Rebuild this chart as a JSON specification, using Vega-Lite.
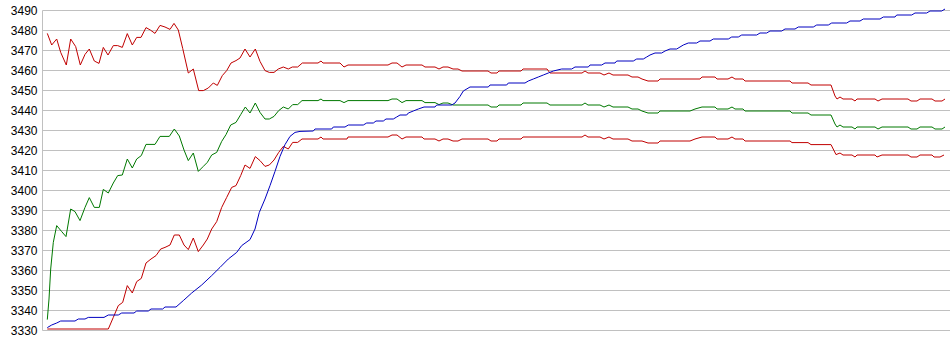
{
  "$schema": "https://vega.github.io/schema/vega-lite/v6.json",
  "width": 908,
  "height": 320,
  "autosize": {"type": "none"},
  "padding": {"left": 42, "top": 10, "right": 0, "bottom": 25},
  "background": "white",
  "config": {"view": {"stroke": null}},
  "data": {"values": [
    {"s":"A","x":47.3,"y":3478.3},{"s":"A","x":51.7,"y":3472.5},{"s":"A","x":56.7,"y":3475.5},{"s":"A","x":60.7,"y":3468.8},{"s":"A","x":66.3,"y":3462.5},{"s":"A","x":70.7,"y":3475.5},{"s":"A","x":75.7,"y":3471.7},{"s":"A","x":80.3,"y":3462.5},{"s":"A","x":85,"y":3467.8},{"s":"A","x":89.3,"y":3470.5},{"s":"A","x":94.3,"y":3464.5},{"s":"A","x":99,"y":3463.3},{"s":"A","x":103.3,"y":3471.3},{"s":"A","x":108,"y":3467.5},{"s":"A","x":113.3,"y":3472.2},{"s":"A","x":117.7,"y":3472.2},{"s":"A","x":122.3,"y":3471.3},{"s":"A","x":127.3,"y":3478.2},{"s":"A","x":132.3,"y":3472.5},{"s":"A","x":136.7,"y":3476.3},{"s":"A","x":141,"y":3476.3},{"s":"A","x":146,"y":3481.2},{"s":"A","x":150.3,"y":3480},{"s":"A","x":155,"y":3478.3},{"s":"A","x":160,"y":3482.3},{"s":"A","x":165,"y":3481.5},{"s":"A","x":170,"y":3480.3},{"s":"A","x":174,"y":3483.3},{"s":"A","x":178.3,"y":3480},{"s":"A","x":182.7,"y":3470.8},{"s":"A","x":188.3,"y":3458.5},{"s":"A","x":193.3,"y":3460.5},{"s":"A","x":198.7,"y":3449.7},{"s":"A","x":203.3,"y":3449.7},{"s":"A","x":208.3,"y":3451},{"s":"A","x":213.3,"y":3453.5},{"s":"A","x":217.3,"y":3452.3},{"s":"A","x":222.3,"y":3457.2},{"s":"A","x":226.7,"y":3459.7},{"s":"A","x":231,"y":3463.5},{"s":"A","x":236,"y":3464.7},{"s":"A","x":240,"y":3466},{"s":"A","x":245,"y":3470.5},{"s":"A","x":250,"y":3466.5},{"s":"A","x":255.3,"y":3470.5},{"s":"A","x":260,"y":3464.3},{"s":"A","x":265,"y":3459.7},{"s":"A","x":269.3,"y":3458.8},{"s":"A","x":274,"y":3458.8},{"s":"A","x":278.3,"y":3460.5},{"s":"A","x":283.3,"y":3461.5},{"s":"A","x":288.3,"y":3460.5},{"s":"A","x":292.3,"y":3461.5},{"s":"A","x":297.7,"y":3461.5},{"s":"A","x":302.3,"y":3463.5},{"s":"A","x":318,"y":3463.5},{"s":"A","x":321,"y":3464.5},{"s":"A","x":323,"y":3463.5},{"s":"A","x":340,"y":3463.5},{"s":"A","x":344,"y":3461.5},{"s":"A","x":348,"y":3462.5},{"s":"A","x":388,"y":3462.5},{"s":"A","x":392,"y":3463.5},{"s":"A","x":397,"y":3463.5},{"s":"A","x":402,"y":3461.5},{"s":"A","x":406,"y":3462.5},{"s":"A","x":422,"y":3462.5},{"s":"A","x":425,"y":3461.5},{"s":"A","x":435,"y":3461.5},{"s":"A","x":439,"y":3460.5},{"s":"A","x":443,"y":3461.5},{"s":"A","x":448,"y":3461.5},{"s":"A","x":453,"y":3460.5},{"s":"A","x":458,"y":3460.5},{"s":"A","x":462,"y":3459.5},{"s":"A","x":488,"y":3459.5},{"s":"A","x":491,"y":3458.5},{"s":"A","x":497,"y":3458.5},{"s":"A","x":499,"y":3459.5},{"s":"A","x":521,"y":3459.5},{"s":"A","x":523,"y":3460.5},{"s":"A","x":547,"y":3460.5},{"s":"A","x":550,"y":3458.5},{"s":"A","x":582,"y":3458.5},{"s":"A","x":585,"y":3459.5},{"s":"A","x":588,"y":3458.5},{"s":"A","x":600,"y":3458.5},{"s":"A","x":604,"y":3457.5},{"s":"A","x":609,"y":3458.5},{"s":"A","x":613,"y":3457.5},{"s":"A","x":628,"y":3457.5},{"s":"A","x":632,"y":3456.5},{"s":"A","x":638,"y":3456.5},{"s":"A","x":642,"y":3455.5},{"s":"A","x":648,"y":3454.5},{"s":"A","x":658,"y":3454.5},{"s":"A","x":660,"y":3455.5},{"s":"A","x":700,"y":3455.5},{"s":"A","x":702,"y":3456.5},{"s":"A","x":715,"y":3456.5},{"s":"A","x":717,"y":3455.5},{"s":"A","x":728,"y":3455.5},{"s":"A","x":732,"y":3456.5},{"s":"A","x":735,"y":3455.5},{"s":"A","x":743,"y":3455.5},{"s":"A","x":745,"y":3454.5},{"s":"A","x":790,"y":3454.5},{"s":"A","x":792,"y":3453.5},{"s":"A","x":808,"y":3453.5},{"s":"A","x":811,"y":3452.5},{"s":"A","x":831,"y":3452.5},{"s":"A","x":835,"y":3447},{"s":"A","x":837,"y":3445.5},{"s":"A","x":840,"y":3446.5},{"s":"A","x":843,"y":3445.5},{"s":"A","x":852,"y":3445.5},{"s":"A","x":855,"y":3444.5},{"s":"A","x":857,"y":3445.5},{"s":"A","x":875,"y":3445.5},{"s":"A","x":878,"y":3444.5},{"s":"A","x":882,"y":3445.5},{"s":"A","x":908,"y":3445.5},{"s":"A","x":911,"y":3444.5},{"s":"A","x":917,"y":3444.5},{"s":"A","x":920,"y":3445.5},{"s":"A","x":932,"y":3445.5},{"s":"A","x":935,"y":3444.5},{"s":"A","x":942,"y":3444.5},{"s":"A","x":945,"y":3445.5},
    {"s":"B","x":47.3,"y":3335.2},{"s":"B","x":49,"y":3345.5},{"s":"B","x":50.7,"y":3360.5},{"s":"B","x":53.3,"y":3373.8},{"s":"B","x":56.7,"y":3382.2},{"s":"B","x":61.7,"y":3379.2},{"s":"B","x":66,"y":3376.7},{"s":"B","x":70.7,"y":3390.5},{"s":"B","x":75,"y":3389.2},{"s":"B","x":80,"y":3384.7},{"s":"B","x":85,"y":3391.3},{"s":"B","x":89.3,"y":3396.2},{"s":"B","x":94.3,"y":3391.3},{"s":"B","x":99.3,"y":3391.3},{"s":"B","x":103.3,"y":3400.3},{"s":"B","x":108.3,"y":3398.5},{"s":"B","x":113.3,"y":3403.5},{"s":"B","x":117.7,"y":3407.2},{"s":"B","x":122.3,"y":3407.5},{"s":"B","x":127.3,"y":3415.5},{"s":"B","x":132.3,"y":3411},{"s":"B","x":136.7,"y":3415.5},{"s":"B","x":141.3,"y":3417.2},{"s":"B","x":146,"y":3422.8},{"s":"B","x":155,"y":3422.8},{"s":"B","x":160,"y":3426.8},{"s":"B","x":169.3,"y":3426.8},{"s":"B","x":174.3,"y":3430.5},{"s":"B","x":179.3,"y":3427},{"s":"B","x":184,"y":3420},{"s":"B","x":188.3,"y":3414.7},{"s":"B","x":193.3,"y":3418.5},{"s":"B","x":198.3,"y":3409.3},{"s":"B","x":203.3,"y":3411.8},{"s":"B","x":207.3,"y":3413.8},{"s":"B","x":211.7,"y":3417.5},{"s":"B","x":216.7,"y":3418.8},{"s":"B","x":221.7,"y":3424.3},{"s":"B","x":226,"y":3427.7},{"s":"B","x":230.7,"y":3432.5},{"s":"B","x":236,"y":3433.8},{"s":"B","x":240.7,"y":3437.7},{"s":"B","x":245.3,"y":3441.5},{"s":"B","x":250,"y":3438.5},{"s":"B","x":255.3,"y":3443.5},{"s":"B","x":260,"y":3438.8},{"s":"B","x":265,"y":3435.5},{"s":"B","x":269.3,"y":3435.5},{"s":"B","x":274,"y":3436.8},{"s":"B","x":278.7,"y":3439.7},{"s":"B","x":283.3,"y":3441.5},{"s":"B","x":288.3,"y":3440.5},{"s":"B","x":292.7,"y":3442.7},{"s":"B","x":297.7,"y":3442.7},{"s":"B","x":302,"y":3444.7},{"s":"B","x":318,"y":3444.7},{"s":"B","x":321,"y":3445.5},{"s":"B","x":323,"y":3444.7},{"s":"B","x":340,"y":3444.7},{"s":"B","x":344,"y":3443.7},{"s":"B","x":348,"y":3444.7},{"s":"B","x":388,"y":3444.7},{"s":"B","x":392,"y":3445.5},{"s":"B","x":397,"y":3445.5},{"s":"B","x":402,"y":3443.7},{"s":"B","x":406,"y":3444.7},{"s":"B","x":422,"y":3444.7},{"s":"B","x":425,"y":3443.7},{"s":"B","x":435,"y":3443.7},{"s":"B","x":439,"y":3442.7},{"s":"B","x":443,"y":3443.5},{"s":"B","x":448,"y":3443.5},{"s":"B","x":453,"y":3442.5},{"s":"B","x":488,"y":3442.5},{"s":"B","x":491,"y":3441.5},{"s":"B","x":497,"y":3441.5},{"s":"B","x":499,"y":3442.5},{"s":"B","x":521,"y":3442.5},{"s":"B","x":523,"y":3443.5},{"s":"B","x":547,"y":3443.5},{"s":"B","x":550,"y":3442.5},{"s":"B","x":582,"y":3442.5},{"s":"B","x":585,"y":3443.5},{"s":"B","x":588,"y":3442.5},{"s":"B","x":600,"y":3442.5},{"s":"B","x":604,"y":3441.5},{"s":"B","x":609,"y":3442.5},{"s":"B","x":613,"y":3441.5},{"s":"B","x":628,"y":3441.5},{"s":"B","x":632,"y":3440.5},{"s":"B","x":638,"y":3440.5},{"s":"B","x":642,"y":3439.5},{"s":"B","x":648,"y":3438.5},{"s":"B","x":658,"y":3438.5},{"s":"B","x":660,"y":3439.5},{"s":"B","x":690,"y":3439.5},{"s":"B","x":695,"y":3440.5},{"s":"B","x":702,"y":3441.5},{"s":"B","x":715,"y":3441.5},{"s":"B","x":717,"y":3440.5},{"s":"B","x":728,"y":3440.5},{"s":"B","x":732,"y":3441.5},{"s":"B","x":735,"y":3440.5},{"s":"B","x":743,"y":3440.5},{"s":"B","x":745,"y":3439.5},{"s":"B","x":790,"y":3439.5},{"s":"B","x":792,"y":3438.5},{"s":"B","x":808,"y":3438.5},{"s":"B","x":811,"y":3437.5},{"s":"B","x":831,"y":3437.5},{"s":"B","x":835,"y":3433},{"s":"B","x":837,"y":3431.5},{"s":"B","x":840,"y":3432.5},{"s":"B","x":843,"y":3431.5},{"s":"B","x":852,"y":3431.5},{"s":"B","x":855,"y":3430.5},{"s":"B","x":857,"y":3431.5},{"s":"B","x":875,"y":3431.5},{"s":"B","x":878,"y":3430.5},{"s":"B","x":882,"y":3431.5},{"s":"B","x":908,"y":3431.5},{"s":"B","x":911,"y":3430.5},{"s":"B","x":917,"y":3430.5},{"s":"B","x":920,"y":3431.5},{"s":"B","x":932,"y":3431.5},{"s":"B","x":935,"y":3430.5},{"s":"B","x":942,"y":3430.5},{"s":"B","x":945,"y":3431.5},
    {"s":"C","x":47.3,"y":3330.5},{"s":"C","x":108.3,"y":3330.5},{"s":"C","x":113.3,"y":3336.3},{"s":"C","x":118.3,"y":3342.2},{"s":"C","x":122.7,"y":3343.8},{"s":"C","x":127.3,"y":3352.2},{"s":"C","x":132.3,"y":3348.5},{"s":"C","x":136.7,"y":3354.2},{"s":"C","x":141.3,"y":3355.8},{"s":"C","x":146,"y":3363.5},{"s":"C","x":151,"y":3365.5},{"s":"C","x":156,"y":3367.2},{"s":"C","x":160.7,"y":3370.5},{"s":"C","x":165,"y":3371.3},{"s":"C","x":170,"y":3372.5},{"s":"C","x":174.3,"y":3377.5},{"s":"C","x":179.3,"y":3377.5},{"s":"C","x":184,"y":3372.5},{"s":"C","x":188.3,"y":3370.2},{"s":"C","x":193.3,"y":3376},{"s":"C","x":198.3,"y":3369.2},{"s":"C","x":203.3,"y":3372.5},{"s":"C","x":207.3,"y":3375.5},{"s":"C","x":211.7,"y":3380.5},{"s":"C","x":216.7,"y":3384.2},{"s":"C","x":221.7,"y":3391.3},{"s":"C","x":226.7,"y":3396.3},{"s":"C","x":231.7,"y":3401.3},{"s":"C","x":236,"y":3402.2},{"s":"C","x":240.7,"y":3407.2},{"s":"C","x":245,"y":3412.5},{"s":"C","x":250,"y":3410.8},{"s":"C","x":255.3,"y":3416.7},{"s":"C","x":260,"y":3414.7},{"s":"C","x":265,"y":3411.8},{"s":"C","x":269.3,"y":3412.5},{"s":"C","x":274,"y":3415},{"s":"C","x":278.7,"y":3418.8},{"s":"C","x":283.3,"y":3421.8},{"s":"C","x":288.3,"y":3420.5},{"s":"C","x":292.7,"y":3423.8},{"s":"C","x":297.7,"y":3423.8},{"s":"C","x":302,"y":3425.5},{"s":"C","x":318,"y":3425.5},{"s":"C","x":321,"y":3426.5},{"s":"C","x":323,"y":3425.5},{"s":"C","x":347,"y":3425.5},{"s":"C","x":348,"y":3426.5},{"s":"C","x":388,"y":3426.5},{"s":"C","x":392,"y":3427.5},{"s":"C","x":397,"y":3427.5},{"s":"C","x":402,"y":3425.5},{"s":"C","x":406,"y":3426.5},{"s":"C","x":422,"y":3426.5},{"s":"C","x":424,"y":3425.5},{"s":"C","x":435,"y":3425.5},{"s":"C","x":439,"y":3424.5},{"s":"C","x":443,"y":3425.5},{"s":"C","x":448,"y":3425.5},{"s":"C","x":453,"y":3424.5},{"s":"C","x":458,"y":3424.5},{"s":"C","x":462,"y":3425.5},{"s":"C","x":488,"y":3425.5},{"s":"C","x":491,"y":3424.5},{"s":"C","x":497,"y":3424.5},{"s":"C","x":499,"y":3425.5},{"s":"C","x":521,"y":3425.5},{"s":"C","x":523,"y":3426.5},{"s":"C","x":582,"y":3426.5},{"s":"C","x":585,"y":3427.5},{"s":"C","x":588,"y":3426.5},{"s":"C","x":600,"y":3426.5},{"s":"C","x":604,"y":3425.5},{"s":"C","x":609,"y":3426.5},{"s":"C","x":613,"y":3425.5},{"s":"C","x":628,"y":3425.5},{"s":"C","x":632,"y":3424.5},{"s":"C","x":642,"y":3424.5},{"s":"C","x":648,"y":3423.5},{"s":"C","x":658,"y":3423.5},{"s":"C","x":660,"y":3424.5},{"s":"C","x":690,"y":3424.5},{"s":"C","x":695,"y":3425.5},{"s":"C","x":702,"y":3426.5},{"s":"C","x":715,"y":3426.5},{"s":"C","x":717,"y":3425.5},{"s":"C","x":728,"y":3425.5},{"s":"C","x":732,"y":3426.5},{"s":"C","x":735,"y":3425.5},{"s":"C","x":743,"y":3425.5},{"s":"C","x":745,"y":3424.5},{"s":"C","x":790,"y":3424.5},{"s":"C","x":792,"y":3423.7},{"s":"C","x":808,"y":3423.7},{"s":"C","x":811,"y":3422.7},{"s":"C","x":831,"y":3422.7},{"s":"C","x":836,"y":3417.7},{"s":"C","x":840,"y":3418.5},{"s":"C","x":843,"y":3417.5},{"s":"C","x":852,"y":3417.5},{"s":"C","x":855,"y":3416.5},{"s":"C","x":857,"y":3417.5},{"s":"C","x":875,"y":3417.5},{"s":"C","x":877,"y":3416.5},{"s":"C","x":882,"y":3417.5},{"s":"C","x":908,"y":3417.5},{"s":"C","x":911,"y":3416.5},{"s":"C","x":917,"y":3416.5},{"s":"C","x":920,"y":3417.5},{"s":"C","x":932,"y":3417.5},{"s":"C","x":934,"y":3416.5},{"s":"C","x":940,"y":3416.5},{"s":"C","x":944,"y":3417.5},
    {"s":"D","x":47.3,"y":3331.2},{"s":"D","x":51.7,"y":3332.5},{"s":"D","x":56.7,"y":3333.5},{"s":"D","x":60.7,"y":3334.5},{"s":"D","x":75,"y":3334.5},{"s":"D","x":78.3,"y":3335.5},{"s":"D","x":85,"y":3335.5},{"s":"D","x":88.3,"y":3336.3},{"s":"D","x":104,"y":3336.3},{"s":"D","x":108.3,"y":3337.5},{"s":"D","x":118.3,"y":3337.5},{"s":"D","x":121.7,"y":3338.5},{"s":"D","x":134,"y":3338.5},{"s":"D","x":136.7,"y":3339.5},{"s":"D","x":148.3,"y":3339.5},{"s":"D","x":151,"y":3340.5},{"s":"D","x":162.7,"y":3340.5},{"s":"D","x":165,"y":3341.5},{"s":"D","x":176,"y":3341.5},{"s":"D","x":183.3,"y":3344.7},{"s":"D","x":191.7,"y":3348.5},{"s":"D","x":201.7,"y":3352.5},{"s":"D","x":211.7,"y":3357.2},{"s":"D","x":220,"y":3361.3},{"s":"D","x":228.3,"y":3365.5},{"s":"D","x":236.7,"y":3368.8},{"s":"D","x":241.7,"y":3372.2},{"s":"D","x":250,"y":3375.2},{"s":"D","x":255,"y":3380.5},{"s":"D","x":259.3,"y":3388.8},{"s":"D","x":265,"y":3395.5},{"s":"D","x":270,"y":3402.2},{"s":"D","x":275,"y":3409.3},{"s":"D","x":280,"y":3416.8},{"s":"D","x":285,"y":3422.7},{"s":"D","x":290,"y":3426.8},{"s":"D","x":295,"y":3428.8},{"s":"D","x":300,"y":3429.3},{"s":"D","x":313.3,"y":3429.5},{"s":"D","x":315,"y":3430.5},{"s":"D","x":331.7,"y":3430.5},{"s":"D","x":333.3,"y":3431.5},{"s":"D","x":345,"y":3431.5},{"s":"D","x":348.3,"y":3432.5},{"s":"D","x":363.3,"y":3432.5},{"s":"D","x":366.7,"y":3433.5},{"s":"D","x":373.3,"y":3433.5},{"s":"D","x":376,"y":3434.5},{"s":"D","x":383.3,"y":3434.5},{"s":"D","x":386,"y":3435.5},{"s":"D","x":393.3,"y":3435.5},{"s":"D","x":396.7,"y":3436.5},{"s":"D","x":400,"y":3437.5},{"s":"D","x":406.7,"y":3437.5},{"s":"D","x":408.3,"y":3438.5},{"s":"D","x":413.3,"y":3439.5},{"s":"D","x":418.3,"y":3440.5},{"s":"D","x":424,"y":3441.5},{"s":"D","x":435,"y":3441.5},{"s":"D","x":436.7,"y":3442.5},{"s":"D","x":451.7,"y":3442.5},{"s":"D","x":455,"y":3443.5},{"s":"D","x":460,"y":3446.8},{"s":"D","x":463.3,"y":3449.5},{"s":"D","x":470,"y":3451.5},{"s":"D","x":488.3,"y":3451.5},{"s":"D","x":490,"y":3452.5},{"s":"D","x":506.7,"y":3452.5},{"s":"D","x":508.3,"y":3453.5},{"s":"D","x":525,"y":3453.5},{"s":"D","x":528.3,"y":3454.5},{"s":"D","x":533.3,"y":3455.5},{"s":"D","x":538.3,"y":3456.5},{"s":"D","x":543.3,"y":3457.5},{"s":"D","x":548.3,"y":3458.5},{"s":"D","x":553.3,"y":3459.5},{"s":"D","x":561.7,"y":3460.5},{"s":"D","x":571.7,"y":3460.5},{"s":"D","x":575,"y":3461.5},{"s":"D","x":588.3,"y":3461.5},{"s":"D","x":590,"y":3462.5},{"s":"D","x":601.7,"y":3462.5},{"s":"D","x":605,"y":3463.5},{"s":"D","x":615,"y":3463.5},{"s":"D","x":616.7,"y":3464.5},{"s":"D","x":633.3,"y":3464.5},{"s":"D","x":636.7,"y":3465.5},{"s":"D","x":643.3,"y":3465.5},{"s":"D","x":646.7,"y":3466.5},{"s":"D","x":650,"y":3467.5},{"s":"D","x":655,"y":3468.5},{"s":"D","x":661.7,"y":3468.5},{"s":"D","x":665,"y":3469.5},{"s":"D","x":670,"y":3470.5},{"s":"D","x":676.7,"y":3470.5},{"s":"D","x":680,"y":3471.5},{"s":"D","x":683.3,"y":3472.5},{"s":"D","x":688.3,"y":3473.5},{"s":"D","x":696.7,"y":3473.5},{"s":"D","x":700,"y":3474.5},{"s":"D","x":710,"y":3474.5},{"s":"D","x":713.3,"y":3475.5},{"s":"D","x":728.3,"y":3475.5},{"s":"D","x":731.7,"y":3476.5},{"s":"D","x":738.3,"y":3476.5},{"s":"D","x":741.7,"y":3477.5},{"s":"D","x":756.7,"y":3477.5},{"s":"D","x":760,"y":3478.5},{"s":"D","x":766.7,"y":3478.5},{"s":"D","x":770,"y":3479.5},{"s":"D","x":781.7,"y":3479.5},{"s":"D","x":785,"y":3480.5},{"s":"D","x":795,"y":3480.5},{"s":"D","x":798.3,"y":3481.5},{"s":"D","x":813.3,"y":3481.5},{"s":"D","x":816.7,"y":3482.5},{"s":"D","x":828.3,"y":3482.5},{"s":"D","x":831.7,"y":3483.5},{"s":"D","x":846.7,"y":3483.5},{"s":"D","x":850,"y":3484.5},{"s":"D","x":860,"y":3484.5},{"s":"D","x":863.3,"y":3485.5},{"s":"D","x":880,"y":3485.5},{"s":"D","x":883.3,"y":3486.5},{"s":"D","x":895,"y":3486.5},{"s":"D","x":896.7,"y":3487.5},{"s":"D","x":911.7,"y":3487.5},{"s":"D","x":915,"y":3488.5},{"s":"D","x":926.7,"y":3488.5},{"s":"D","x":930,"y":3489.5},{"s":"D","x":941.7,"y":3489.5},{"s":"D","x":945,"y":3490.5}
  ]},
  "mark": {"type": "line", "strokeWidth": 1, "clip": false},
  "encoding": {
    "x": {"field": "x", "type": "quantitative", "scale": {"domain": [42, 950], "nice": false, "zero": false}, "axis": null},
    "y": {"field": "y", "type": "quantitative", "scale": {"domain": [3330, 3490], "nice": false, "zero": false},
      "axis": {"title": null, "format": "d", "values": [3330,3340,3350,3360,3370,3380,3390,3400,3410,3420,3430,3440,3450,3460,3470,3480,3490],
        "ticks": false, "labelPadding": 5, "labelFont": "Liberation Sans", "labelFontSize": 12, "labelColor": "#000000",
        "grid": true, "gridColor": "#c0c0c0", "gridWidth": 1, "gridOpacity": 1, "domain": true, "domainColor": "#c0c0c0", "domainWidth": 1, "labelOverlap": false}},
    "color": {"field": "s", "type": "nominal", "scale": {"domain": ["A","B","C","D"], "range": ["#c00000","#007800","#c00000","#0000c0"]}, "legend": null},
    "detail": {"field": "s"}
  }
}
